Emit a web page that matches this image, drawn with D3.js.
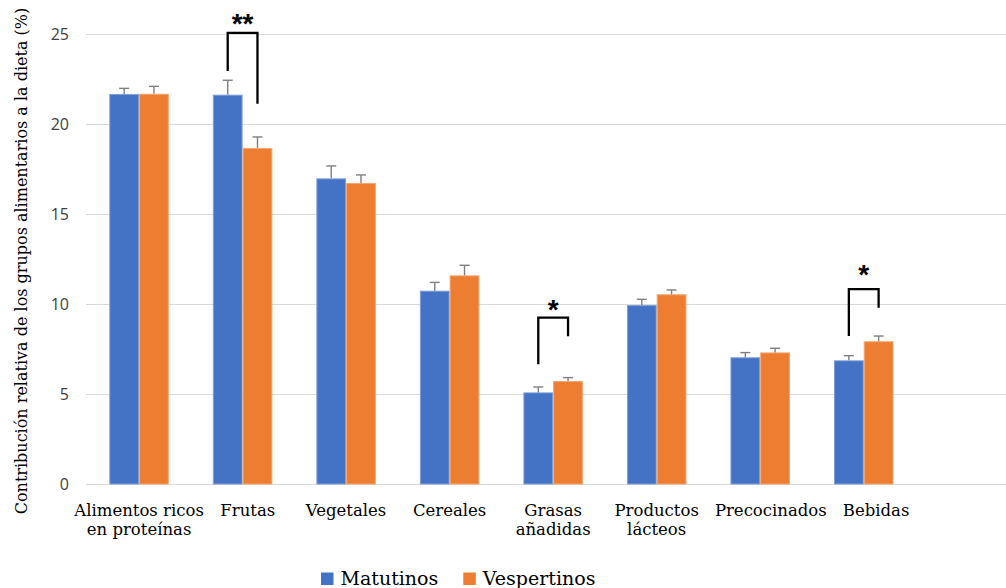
<!DOCTYPE html>
<html>
<head>
<meta charset="utf-8">
<script src="https://cdn.jsdelivr.net/npm/d3@7"></script>
<style>
  html, body { margin: 0; padding: 0; background: #fff; }
  svg { display: block; }
</style>
</head>
<body>
<svg id="chart" width="1006" height="588"></svg>
<script>
// ---------- data ----------
const categories = [
  "Alimentos ricos en proteínas", "Frutas", "Vegetales", "Cereales",
  "Grasas añadidas", "Productos lácteos", "Precocinados", "Bebidas"
];
const categoryLines = [
  ["Alimentos ricos", "en proteínas"], ["Frutas"], ["Vegetales"], ["Cereales"],
  ["Grasas", "añadidas"], ["Productos", "lácteos"], ["Precocinados"], ["Bebidas"]
];
const seriesNames = ["Matutinos", "Vespertinos"];
const matutinos       = [21.67, 21.63, 16.98, 10.74, 5.09, 9.94, 7.04, 6.87];
const matutinosErr    = [0.31, 0.80, 0.69, 0.46, 0.30, 0.32, 0.26, 0.26];
const vespertinos     = [21.68, 18.67, 16.72, 11.59, 5.72, 10.54, 7.31, 7.93];
const vespertinosErr  = [0.41, 0.61, 0.45, 0.56, 0.19, 0.24, 0.23, 0.29];
const yTicks = [0, 5, 10, 15, 20, 25];
const yTitle = "Contribución relativa de los grupos alimentarios a la dieta (%)";
// significance brackets: category, label, left end, top, right end, label level (y units)
const sigCategories = ["Frutas", "Grasas añadidas", "Bebidas"];
const sigLabels     = ["**", "*", "*"];
const sigLeftEnd    = [22.94, 6.65, 8.22];
const sigTop        = [25.06, 9.24, 10.83];
const sigRightEnd   = [21.13, 8.21, 9.79];
const sigLabelLevel = [25.95, 10.06, 12.0];

const colors = { "Matutinos": "#4472C4", "Vespertinos": "#ED7D31" };
const edge   = { "Matutinos": "#7f9fd9", "Vespertinos": "#f5a56e" };

// ---------- layout ----------
const svg = d3.select("#chart");
const plotLeft = 86, plotRight = 1006;

const x = d3.scaleBand()
  .domain(categories)
  .range([87.3, 915.5])
  .paddingInner(0.425)
  .paddingOuter(0.2125);

const xs = d3.scaleBand().domain(seriesNames).range([0, x.bandwidth()]).padding(0);

const y = d3.scaleLinear().domain([0, 25]).range([484, 34]);

// gridlines + y tick labels
const yAxis = d3.axisLeft(y)
  .tickValues(yTicks)
  .tickSize(-(plotRight - plotLeft))
  .tickPadding(17)
  .tickFormat(d3.format("d"));

const gy = svg.append("g")
  .attr("transform", `translate(${plotLeft},0)`)
  .call(yAxis);
gy.select(".domain").remove();
gy.selectAll(".tick line").attr("stroke", "#d9d9d9").attr("stroke-width", 1);
gy.selectAll(".tick text")
  .attr("fill", "#404040")
  .style("font-family", "'Open Sans', sans-serif")
  .style("font-size", "16px");

// y title
svg.append("text")
  .attr("transform", `translate(27,261) rotate(-90)`)
  .attr("text-anchor", "middle")
  .attr("fill", "#000")
  .style("font-family", "'DejaVu Serif', serif")
  .style("font-size", "16px")
  .text(yTitle);

// bars
const rows = categories.map((c, i) => ({
  cat: c,
  vals: [
    { s: "Matutinos", v: matutinos[i], e: matutinosErr[i] },
    { s: "Vespertinos", v: vespertinos[i], e: vespertinosErr[i] }
  ]
}));

const groups = svg.append("g").selectAll("g")
  .data(rows).join("g")
  .attr("transform", d => `translate(${x(d.cat)},0)`);

groups.selectAll("rect")
  .data(d => d.vals).join("rect")
  .attr("x", d => xs(d.s) + 0.5)
  .attr("y", d => y(d.v) + 0.5)
  .attr("width", xs.bandwidth() - 1)
  .attr("height", d => y(0) - y(d.v) - 0.5)
  .attr("fill", d => colors[d.s])
  .attr("stroke", d => edge[d.s])
  .attr("stroke-width", 1);

// error bars
const eb = groups.selectAll("g.err")
  .data(d => d.vals).join("g").attr("class", "err");
eb.append("line")
  .attr("x1", d => xs(d.s) + xs.bandwidth() / 2)
  .attr("x2", d => xs(d.s) + xs.bandwidth() / 2)
  .attr("y1", d => y(d.v))
  .attr("y2", d => y(d.v + d.e))
  .attr("stroke", "#7f7f7f").attr("stroke-width", 1.4);
eb.append("line")
  .attr("x1", d => xs(d.s) + xs.bandwidth() / 2 - 5)
  .attr("x2", d => xs(d.s) + xs.bandwidth() / 2 + 5)
  .attr("y1", d => y(d.v + d.e))
  .attr("y2", d => y(d.v + d.e))
  .attr("stroke", "#7f7f7f").attr("stroke-width", 1.4);

// x labels (shifted right when they would collide with the previous label)
const xl = svg.append("g").selectAll("text")
  .data(categories).join("text")
  .attr("y", 516)
  .attr("text-anchor", "middle")
  .attr("fill", "#000")
  .style("font-family", "'DejaVu Serif', serif")
  .style("font-size", "16.5px");
let prevRight = -Infinity;
xl.each(function(d, i) {
  const t = d3.select(this);
  let cx = x(d) + x.bandwidth() / 2;
  categoryLines[i].forEach((ln, j) => {
    t.append("tspan")
      .attr("x", cx)
      .attr("dy", j === 0 ? 0 : 18.5)
      .text(ln);
  });
  const w = this.getBBox().width;
  const minLeft = prevRight + 16;
  if (cx - w / 2 < minLeft) {
    cx = minLeft + w / 2;
    t.selectAll("tspan").attr("x", cx);
  }
  prevRight = cx + w / 2;
});

// significance brackets
sigCategories.forEach((c, i) => {
  const xl0 = x(c) + xs("Matutinos") + xs.bandwidth() / 2;
  const xr0 = x(c) + xs("Vespertinos") + xs.bandwidth() / 2;
  const path = d3.path();
  path.moveTo(xl0, y(sigLeftEnd[i]));
  path.lineTo(xl0, y(sigTop[i]));
  path.lineTo(xr0, y(sigTop[i]));
  path.lineTo(xr0, y(sigRightEnd[i]));
  svg.append("path")
    .attr("d", path.toString())
    .attr("fill", "none")
    .attr("stroke", "#000")
    .attr("stroke-width", 2.3)
    .attr("stroke-linejoin", "miter");
  svg.append("text")
    .attr("x", (xl0 + xr0) / 2)
    .attr("y", y(sigLabelLevel[i]) + 16)
    .attr("text-anchor", "middle")
    .style("font-family", "'Liberation Sans', Arial, sans-serif")
    .style("font-weight", "bold")
    .style("font-size", "28px")
    .attr("fill", "#000")
    .text(sigLabels[i]);
});

// legend
const legend = svg.append("g").attr("transform", "translate(321,572.5)");
let lx = 0;
seriesNames.forEach(s => {
  legend.append("rect")
    .attr("x", lx).attr("y", 0)
    .attr("width", 12.5).attr("height", 12.5)
    .attr("fill", colors[s]);
  const t = legend.append("text")
    .attr("x", lx + 19.5).attr("y", 12.8)
    .style("font-family", "'DejaVu Serif', serif")
    .style("font-size", "19px")
    .attr("fill", "#000")
    .text(s);
  lx += 19.5 + t.node().getComputedTextLength() + 25;
});
</script>
</body>
</html>
